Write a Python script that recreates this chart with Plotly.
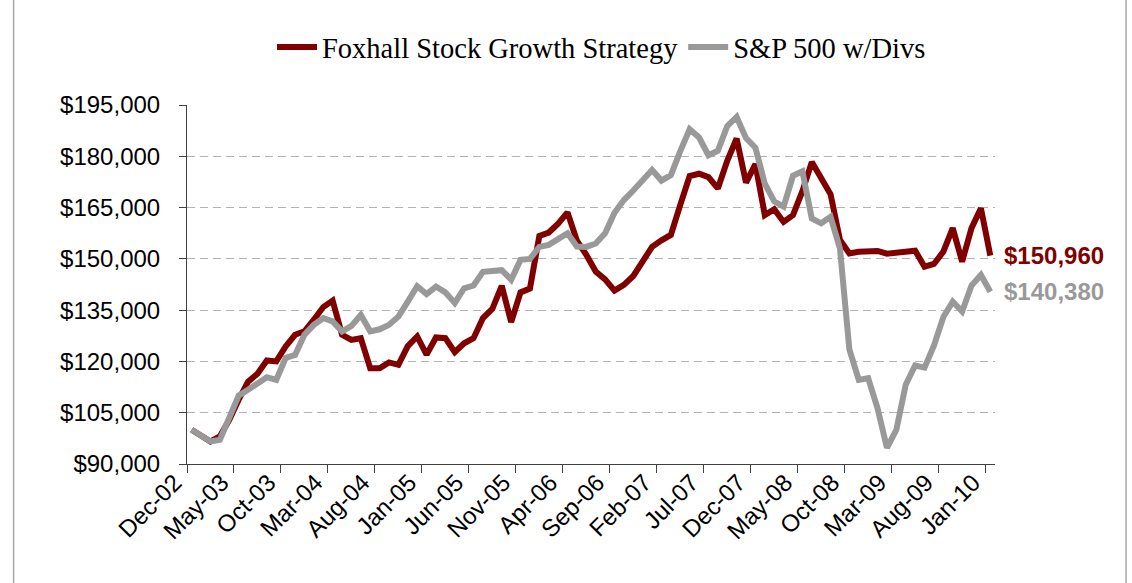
import pandas as pd
import plotly.graph_objects as go

# ---- data ----
months = list(pd.date_range("2002-12-01", periods=86, freq="MS").strftime("%b-%y"))

tick_labels = ["Dec-02", "May-03", "Oct-03", "Mar-04", "Aug-04", "Jan-05", "Jun-05",
               "Nov-05", "Apr-06", "Sep-06", "Feb-07", "Jul-07", "Dec-07", "May-08",
               "Oct-08", "Mar-09", "Aug-09", "Jan-10"]

y_ticks = [90000, 105000, 120000, 135000, 150000, 165000, 180000, 195000]
y_tick_labels = ["$90,000", "$105,000", "$120,000", "$135,000", "$150,000",
                 "$165,000", "$180,000", "$195,000"]

foxhall = [100000, 98300, 96600, 98100, 102900, 108800, 114100, 116400, 120300, 120000,
           124400, 127800, 128800, 132200, 135900, 137800, 127800, 126300, 126800, 118000,
           118000, 119700, 119000, 124500, 127300, 122000, 127000, 126800, 122700, 125300,
           126800, 132700, 135400, 142100, 131500, 140200, 141300, 156700, 157700, 160300,
           163600, 155300, 151200, 146300, 144000, 140700, 142400, 145000, 149300, 153500,
           155400, 157000, 165800, 174200, 174900, 173900, 170600, 178700, 185200, 172300,
           177700, 162800, 164500, 160800, 162800, 169800, 178300, 173400, 168900, 155500,
           151600, 152100, 152400, 152300, 151500, 151800, 152300, 152400, 147700, 148500,
           152100, 159000, 149200, 159000, 164800, 150960]

sp500 = [100000, 98300, 96600, 97100, 103900, 110000, 111700, 113600, 115400, 114600,
         121000, 121900, 127800, 130700, 132700, 131700, 128800, 130400, 133600, 128800,
         129400, 130700, 133100, 137500, 142000, 139700, 141900, 140200, 137100, 141400,
         142200, 146200, 146300, 146700, 143900, 149700, 150000, 153500, 154100, 156000,
         157500, 153600, 153500, 154500, 157500, 163500, 167200, 170000, 173100, 176000,
         172900, 174500, 181500, 187900, 185500, 180300, 181600, 188800, 191500, 185300,
         182500, 172000, 166800, 165300, 174300, 175600, 161800, 160400, 162300, 153000,
         123500, 114600, 115100, 106300, 94700, 100000, 113200, 118800, 118200, 124600,
         133000, 137500, 134600, 142200, 145300, 140380]

series_names = ["Foxhall Stock Growth Strategy", "S&P 500 w/Divs"]
end_labels = ["$150,960", "$140,380"]

# ---- figure ----
RED = "#800000"
GRAY = "#999999"
x_idx = list(range(len(months)))
tick_idx = [months.index(t) for t in tick_labels]

fig = go.Figure()
fig.add_trace(go.Scatter(x=x_idx, y=foxhall, mode="lines", name=series_names[0],
                         line=dict(color=RED, width=6), customdata=months,
                         hovertemplate="%{customdata}: $%{y:,}<extra></extra>"))
fig.add_trace(go.Scatter(x=x_idx, y=sp500, mode="lines", name=series_names[1],
                         line=dict(color=GRAY, width=6), customdata=months,
                         hovertemplate="%{customdata}: $%{y:,}<extra></extra>"))

for vals, txt, col in [(foxhall, end_labels[0], RED), (sp500, end_labels[1], GRAY)]:
    fig.add_annotation(x=x_idx[-1], y=vals[-1], text=txt, showarrow=False,
                       xanchor="left", yanchor="middle", xshift=12,
                       font=dict(family="Liberation Sans, Arial", size=24, color=col,
                                 weight="bold"))

AX = "#404040"
fig.update_layout(
    width=1132, height=583, autosize=False,
    margin=dict(l=187, r=137, t=105, b=119, autoexpand=False),
    paper_bgcolor="white", plot_bgcolor="white",
    font=dict(family="Liberation Sans, Arial", color="black"),
    showlegend=True,
    legend=dict(orientation="h", x=0.513, xanchor="center", y=1.16, yanchor="middle",
                font=dict(family="Liberation Serif, Times New Roman", size=28.5, color="black"),
                bgcolor="rgba(0,0,0,0)", itemwidth=40, tracegroupgap=0),
    xaxis=dict(range=[-0.5, len(months) - 0.5], tickmode="array", tickvals=tick_idx,
               ticktext=tick_labels, tickangle=-45, ticks="", showgrid=False,
               showline=True, linecolor=AX, linewidth=1, zeroline=False,
               automargin=False,
               tickfont=dict(size=24, color="black"), ticklabelshift=-17,
               ticklabelstandoff=-6,
               minor=dict(tickmode="linear", tick0=-0.5, dtick=5, ticks="outside",
                          ticklen=8, tickcolor=AX, tickwidth=1, showgrid=False)),
    yaxis=dict(range=[y_ticks[0], y_ticks[-1]], tickmode="array", tickvals=y_ticks,
               ticktext=y_tick_labels, ticks="outside", ticklen=7,
               tickcolor=AX, showline=True, linecolor=AX, linewidth=1,
               showgrid=True, gridcolor="#B3B3B3", griddash="8px,5px", gridwidth=1,
               zeroline=False, tickfont=dict(size=24, color="black"),
               ticklabelstandoff=14, automargin=False),
    yaxis2=dict(range=[y_ticks[0], y_ticks[-1]], overlaying="y", side="left",
                anchor="x", tickmode="array", tickvals=y_ticks, ticks="inside",
                ticklen=8, tickcolor=AX, showticklabels=False, showgrid=False,
                showline=False, zeroline=False, automargin=False),
    shapes=[
        dict(type="line", xref="paper", yref="paper", x0=-0.2146, x1=-0.2146,
             y0=-0.34, y1=1.30, line=dict(color="#A6A6A6", width=1.5)),
        dict(type="line", xref="paper", yref="paper", x0=1.1622, x1=1.1622,
             y0=-0.34, y1=1.30, line=dict(color="#A6A6A6", width=1.5)),
    ],
)

fig.write_html("out.html", config={"displayModeBar": False},
               post_script="document.body.style.margin='0';")
